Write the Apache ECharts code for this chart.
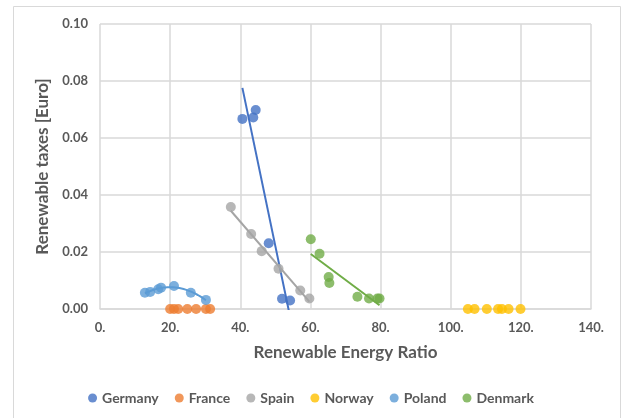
<!DOCTYPE html>
<html><head><meta charset="utf-8">
<script src="https://cdn.jsdelivr.net/npm/echarts@6/dist/echarts.min.js"></script>
<style>html,body{margin:0;padding:0;background:#fff}#c{width:622px;height:418px}</style>
</head><body><div id="c"></div>
<script>
// Data
const seriesNames = ['Germany', 'France', 'Spain', 'Norway', 'Poland', 'Denmark'];
const germanyX = [40.6, 43.7, 44.4, 48.1, 51.9, 54.2];
const germanyY = [0.0667, 0.0672, 0.0698, 0.0231, 0.0036, 0.0030];
const franceX = [20.0, 21.1, 22.3, 24.9, 27.4, 30.2, 31.4];
const franceY = [0, 0, 0, 0, 0, 0, 0];
const spainX = [37.3, 43.1, 46.1, 50.9, 57.1, 59.7];
const spainY = [0.0358, 0.0263, 0.0203, 0.0141, 0.0065, 0.0037];
const norwayX = [104.9, 106.8, 110.3, 113.5, 114.6, 116.5, 119.9];
const norwayY = [0, 0, 0, 0, 0, 0, 0];
const polandX = [12.8, 14.3, 16.6, 17.4, 21.1, 25.9, 30.2];
const polandY = [0.0057, 0.0060, 0.0069, 0.0075, 0.0081, 0.0057, 0.0032];
const denmarkX = [60.1, 62.6, 65.2, 65.4, 73.4, 76.7, 79.1, 79.7];
const denmarkY = [0.0245, 0.0194, 0.0112, 0.0091, 0.0043, 0.0037, 0.0037, 0.0037];
const xTicks = [0, 20, 40, 60, 80, 100, 120, 140];
const yTicks = [0, 0.02, 0.04, 0.06, 0.08, 0.10];

const colors = ['#4472C4', '#ED7D31', '#A5A5A5', '#FFC000', '#5B9BD5', '#70AD47'];
const xs = [germanyX, franceX, spainX, norwayX, polandX, denmarkX];
const ys = [germanyY, franceY, spainY, norwayY, polandY, denmarkY];

function zip(a, b) { return a.map((v, i) => [v, b[i]]); }
function linFit(x, y) {
  const n = x.length, mx = x.reduce((s, v) => s + v, 0) / n, my = y.reduce((s, v) => s + v, 0) / n;
  let sxy = 0, sxx = 0;
  for (let i = 0; i < n; i++) { sxy += (x[i] - mx) * (y[i] - my); sxx += (x[i] - mx) ** 2; }
  const b = sxy / sxx, a = my - b * mx;
  const lo = Math.min(...x), hi = Math.max(...x);
  return [[lo, a + b * lo], [hi, a + b * hi]];
}
function quadFit(x, y) {
  const S = [0, 0, 0, 0, 0], T = [0, 0, 0];
  for (let i = 0; i < x.length; i++) {
    let p = 1;
    for (let k = 0; k < 5; k++) { S[k] += p; if (k < 3) T[k] += p * y[i]; p *= x[i]; }
  }
  const M = [[S[0], S[1], S[2], T[0]], [S[1], S[2], S[3], T[1]], [S[2], S[3], S[4], T[2]]];
  for (let i = 0; i < 3; i++) {
    for (let j = i + 1; j < 3; j++) {
      const f = M[j][i] / M[i][i];
      for (let k = i; k < 4; k++) M[j][k] -= f * M[i][k];
    }
  }
  const c = [0, 0, 0];
  for (let i = 2; i >= 0; i--) {
    let s = M[i][3];
    for (let k = i + 1; k < 3; k++) s -= M[i][k] * c[k];
    c[i] = s / M[i][i];
  }
  const lo = Math.min(...x), hi = Math.max(...x), pts = [];
  for (let i = 0; i <= 30; i++) { const v = lo + (hi - lo) * i / 30; pts.push([v, c[0] + c[1] * v + c[2] * v * v]); }
  return pts;
}

const font = 'Lato, Open Sans, sans-serif';
const series = [];
seriesNames.forEach((name, i) => {
  series.push({
    name, type: 'scatter', data: zip(xs[i], ys[i]), symbol: 'circle', symbolSize: 10,
    itemStyle: { color: colors[i] }, z: 3
  });
});
const trends = [
  [0, linFit(germanyX, germanyY)],
  [2, linFit(spainX, spainY)],
  [4, quadFit(polandX, polandY)],
  [5, linFit(denmarkX, denmarkY)]
];
trends.forEach(([i, pts]) => {
  series.push({
    name: seriesNames[i] + ' trend', type: 'line', data: pts, showSymbol: false, symbol: 'none',
    smooth: false, clip: true, lineStyle: { color: colors[i], width: 2 }, z: 2, silent: true
  });
});

const chart = echarts.init(document.getElementById('c'), null, { renderer: 'canvas' });
chart.setOption({
  animation: false,
  color: colors,
  graphic: [{ type: 'rect', shape: { x: 13.5, y: 6.5, width: 607, height: 420 }, style: { fill: 'none', stroke: '#D9D9D9', lineWidth: 1 }, silent: true }],
  grid: { left: 100, top: 24, right: 31, bottom: 109 },
  legend: {
    data: seriesNames, bottom: 8, left: 'center', icon: 'circle', itemWidth: 9, itemHeight: 9, itemGap: 16,
    textStyle: { color: '#595959', fontSize: 14, fontFamily: font, fontWeight: 'bold' }
  },
  xAxis: {
    type: 'value', min: 0, max: 140, interval: 20,
    name: 'Renewable Energy Ratio', nameLocation: 'middle', nameGap: 35,
    nameTextStyle: { color: '#595959', fontSize: 17, fontWeight: 'bold', fontFamily: font },
    axisLine: { show: true, lineStyle: { color: '#D9D9D9', width: 1.5 } },
    axisTick: { show: false },
    axisLabel: { color: '#595959', fontSize: 13, fontFamily: font, fontWeight: 'bold', margin: 12,
      formatter: v => xTicks.includes(v) ? v + '.' : '' },
    splitLine: { show: true, lineStyle: { color: '#D9D9D9', width: 1.5 } }
  },
  yAxis: {
    type: 'value', min: 0, max: 0.1, interval: 0.02,
    name: 'Renewable taxes [Euro]', nameLocation: 'middle', nameGap: 46,
    nameTextStyle: { color: '#595959', fontSize: 17, fontWeight: 'bold', fontFamily: font },
    axisLine: { show: false }, axisTick: { show: false },
    axisLabel: { color: '#595959', fontSize: 13, fontFamily: font, fontWeight: 'bold', margin: 12,
      formatter: v => { const t = yTicks.find(u => Math.abs(u - v) < 1e-9); return t === undefined ? '' : t.toFixed(2); } },
    splitLine: { show: true, lineStyle: { color: '#D9D9D9', width: 1.5 } }
  },
  series
});
</script></body></html>
